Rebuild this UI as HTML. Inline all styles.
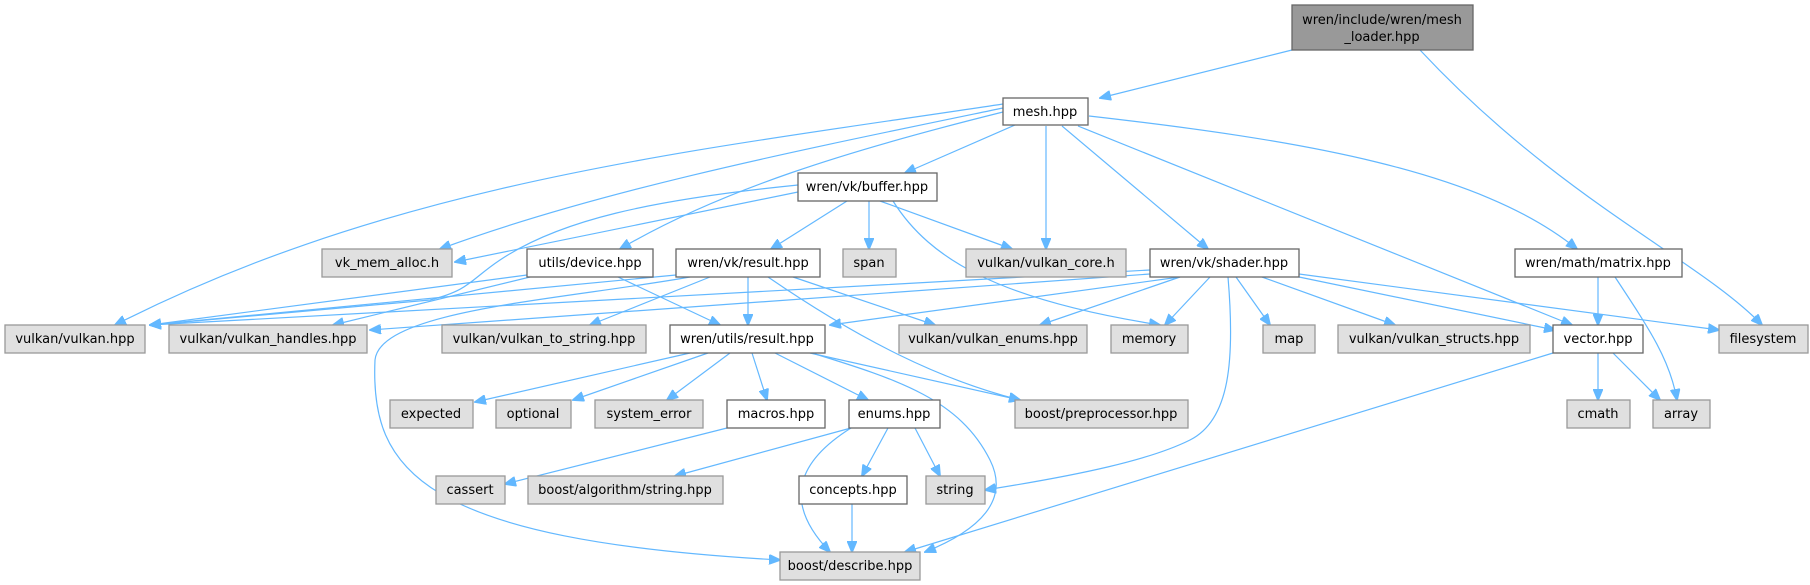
<!DOCTYPE html>
<html><head><meta charset="utf-8"><style>
html,body{margin:0;padding:0;background:#fff;}
svg{display:block;}
text{font-family:"DejaVu Sans","Liberation Sans",sans-serif;font-size:13px;text-anchor:middle;fill:#000;}
.g{fill:#e0e0e0;stroke:#999;stroke-width:1.3}
.w{fill:#fff;stroke:#666;stroke-width:1.3}
.r{fill:#999;stroke:#666;stroke-width:1.3}
path{fill:none;stroke:#63b8ff;stroke-width:1.2;marker-end:url(#a)}
</style></head><body>
<svg width="1810" height="585" viewBox="0 0 1810 585" xmlns="http://www.w3.org/2000/svg">
<defs><marker id="a" markerWidth="12" markerHeight="10" refX="11" refY="5" orient="auto" markerUnits="userSpaceOnUse"><path d="M0,0 L12,5 L0,10 z" style="fill:#63b8ff;stroke:#63b8ff;stroke-width:1;marker-end:none"/></marker></defs>

<!-- edges -->
<path d="M1292,50 L1100,98"/>
<path d="M1420,50 C1560,200 1700,260 1762,325"/>
<path d="M1003,104 C700,150 400,180 115,325"/>
<path d="M1003,108 C800,150 600,190 440,249"/>
<path d="M1003,112 C850,150 720,190 620,249"/>
<path d="M1015,125 L905,173"/>
<path d="M1046,126 L1046,249"/>
<path d="M1062,126 L1208,249"/>
<path d="M1078,126 L1572,325"/>
<path d="M1089,116 C1300,140 1480,170 1577,249"/>
<path d="M798,192 L455,262"/>
<path d="M798,185 C650,200 560,220 500,260 C470,280 470,290 430,300 L150,325"/>
<path d="M847,201 L771,249"/>
<path d="M869,201 L869,249"/>
<path d="M880,201 L1012,249"/>
<path d="M893,201 C930,260 1000,300 1160,325"/>
<path d="M527,275 L150,325"/>
<path d="M530,277 L333,325"/>
<path d="M618,277 L720,325"/>
<path d="M676,275 L150,325"/>
<path d="M710,277 L590,325"/>
<path d="M748,277 L748,325"/>
<path d="M793,277 L935,325"/>
<path d="M768,277 C860,340 940,380 1020,400"/>
<path d="M690,277 C560,300 380,310 375,360 C370,470 420,540 780,560"/>
<path d="M1150,270 C800,290 400,310 150,325"/>
<path d="M1150,274 L370,330"/>
<path d="M1180,277 L830,325"/>
<path d="M1180,277 L1040,325"/>
<path d="M1210,277 L1165,325"/>
<path d="M1236,277 L1270,325"/>
<path d="M1262,277 L1395,325"/>
<path d="M1299,277 L1555,330"/>
<path d="M1299,274 L1719,330"/>
<path d="M1228,277 C1235,360 1230,420 1190,440 C1150,460 1080,475 985,490"/>
<path d="M1598,277 L1598,325"/>
<path d="M1615,277 C1650,330 1670,360 1677,400"/>
<path d="M1598,353 L1598,400"/>
<path d="M1613,353 L1660,400"/>
<path d="M1553,353 L905,552"/>
<path d="M690,353 L475,402"/>
<path d="M708,353 L573,400"/>
<path d="M730,353 L667,400"/>
<path d="M752,353 L767,400"/>
<path d="M775,353 L868,400"/>
<path d="M810,353 L1020,400"/>
<path d="M812,353 C900,380 960,400 990,460 C1010,500 980,530 925,552"/>
<path d="M727,428 L505,484"/>
<path d="M851,428 L675,476"/>
<path d="M888,428 L862,476"/>
<path d="M915,428 L940,476"/>
<path d="M851,428 C800,460 780,500 830,552"/>
<path d="M852,504 L852,552"/>

<!-- nodes -->
<rect class="r" x="1292" y="5" width="181" height="45"/>
<text x="1382" y="24">wren/include/wren/mesh</text><text x="1382" y="41">_loader.hpp</text>
<rect class="w" x="1003" y="98" width="85" height="27"/><text x="1045" y="116">mesh.hpp</text>
<rect class="w" x="798" y="173" width="139" height="28"/><text x="867" y="191">wren/vk/buffer.hpp</text>

<rect class="g" x="322" y="249" width="130" height="28"/><text x="387" y="267">vk_mem_alloc.h</text>
<rect class="w" x="527" y="249" width="126" height="28"/><text x="590" y="267">utils/device.hpp</text>
<rect class="w" x="676" y="249" width="144" height="28"/><text x="748" y="267">wren/vk/result.hpp</text>
<rect class="g" x="843" y="249" width="53" height="28"/><text x="869" y="267">span</text>
<rect class="g" x="966" y="249" width="160" height="28"/><text x="1046" y="267">vulkan/vulkan_core.h</text>
<rect class="w" x="1150" y="249" width="149" height="28"/><text x="1224" y="267">wren/vk/shader.hpp</text>
<rect class="w" x="1515" y="249" width="167" height="28"/><text x="1598" y="267">wren/math/matrix.hpp</text>

<rect class="g" x="5" y="325" width="140" height="28"/><text x="75" y="343">vulkan/vulkan.hpp</text>
<rect class="g" x="169" y="325" width="198" height="28"/><text x="268" y="343">vulkan/vulkan_handles.hpp</text>
<rect class="g" x="442" y="325" width="204" height="28"/><text x="544" y="343">vulkan/vulkan_to_string.hpp</text>
<rect class="w" x="670" y="325" width="155" height="28"/><text x="747" y="343">wren/utils/result.hpp</text>
<rect class="g" x="899" y="325" width="188" height="28"/><text x="993" y="343">vulkan/vulkan_enums.hpp</text>
<rect class="g" x="1111" y="325" width="77" height="28"/><text x="1149" y="343">memory</text>
<rect class="g" x="1263" y="325" width="52" height="28"/><text x="1289" y="343">map</text>
<rect class="g" x="1338" y="325" width="192" height="28"/><text x="1434" y="343">vulkan/vulkan_structs.hpp</text>
<rect class="w" x="1553" y="325" width="90" height="28"/><text x="1598" y="343">vector.hpp</text>
<rect class="g" x="1719" y="325" width="89" height="28"/><text x="1763" y="343">filesystem</text>

<rect class="g" x="390" y="400" width="83" height="28"/><text x="431" y="418">expected</text>
<rect class="g" x="496" y="400" width="75" height="28"/><text x="533" y="418">optional</text>
<rect class="g" x="595" y="400" width="108" height="28"/><text x="649" y="418">system_error</text>
<rect class="w" x="727" y="400" width="98" height="28"/><text x="776" y="418">macros.hpp</text>
<rect class="w" x="849" y="400" width="91" height="28"/><text x="894" y="418">enums.hpp</text>
<rect class="g" x="1015" y="400" width="173" height="28"/><text x="1101" y="418">boost/preprocessor.hpp</text>
<rect class="g" x="1567" y="400" width="63" height="28"/><text x="1598" y="418">cmath</text>
<rect class="g" x="1653" y="400" width="57" height="28"/><text x="1681" y="418">array</text>

<rect class="g" x="436" y="476" width="69" height="28"/><text x="470" y="494">cassert</text>
<rect class="g" x="528" y="476" width="195" height="28"/><text x="625" y="494">boost/algorithm/string.hpp</text>
<rect class="w" x="799" y="476" width="108" height="28"/><text x="853" y="494">concepts.hpp</text>
<rect class="g" x="926" y="476" width="59" height="28"/><text x="955" y="494">string</text>

<rect class="g" x="780" y="552" width="140" height="28"/><text x="850" y="570">boost/describe.hpp</text>
</svg>
</body></html>
